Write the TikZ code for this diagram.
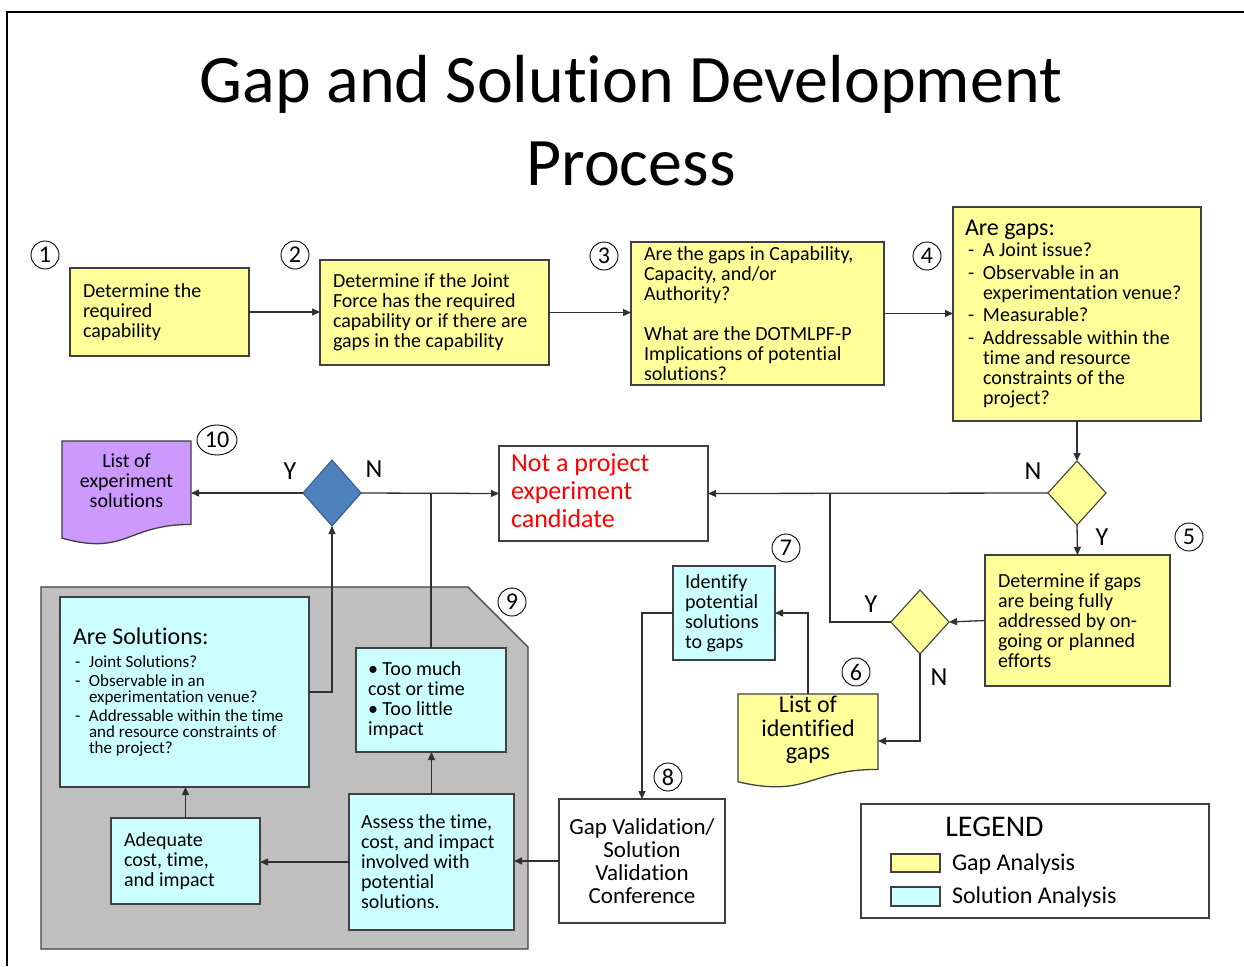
\documentclass[tikz,border=0pt]{standalone}
\usepackage{fontspec}
\setmainfont{Carlito}[Ligatures=NoCommon]
\usetikzlibrary{arrows.meta,shapes.geometric,calc}
\definecolor{gapyellow}{HTML}{FFFF99}
\definecolor{solcyan}{HTML}{CCFFFF}
\definecolor{grayregion}{HTML}{BFBFBF}
\definecolor{docpurple}{HTML}{CC99FF}
\definecolor{bluedia}{HTML}{4F81BD}
\definecolor{bluedialine}{HTML}{385D8A}
\definecolor{boxline}{HTML}{404040}
\definecolor{connline}{HTML}{303030}
\newcommand{\lft}[2]{\makebox[#1][l]{\parbox[c]{\dimexpr#1+40pt\relax}{\raggedright #2}}}
\newcommand{\itm}{\hspace*{3pt}\makebox[15pt][l]{-}}
\newcommand{\cnt}{\hspace*{18pt}}
\newcommand{\sitm}{\hspace*{2pt}\makebox[14pt][l]{-}}
\newcommand{\scnt}{\hspace*{16pt}}
\begin{document}
\begin{tikzpicture}[x=1pt,y=-1pt,
  bx/.style={draw=boxline, line width=1.3pt, inner sep=0pt, outer sep=0pt, text=black},
  gapbox/.style={bx, fill=gapyellow},
  solbox/.style={bx, fill=solcyan},
  plainbox/.style={bx, fill=white},
  f20/.style={font=\fontsize{20}{20}\selectfont},
  conn/.style={draw=connline, line width=1.3pt},
  arr/.style={conn, -{Triangle[length=8pt,width=7pt]}},
  num/.style={draw=black, line width=0.9pt, circle, minimum size=28pt, inner sep=0pt, font=\fontsize{24}{24}\selectfont},
  yn/.style={inner sep=0pt, font=\fontsize{26}{26}\selectfont},
  dia/.style={diamond, draw=boxline, line width=1.1pt, inner sep=0pt, outer sep=0pt, minimum width=58pt, minimum height=64pt},
  docshape/.style={draw=boxline, line width=1.3pt},
  txt/.style={inner sep=0pt, outer sep=0pt},
]
\useasboundingbox (0,0) rectangle (1244,966);
\fill[white] (0,0) rectangle (1244,966);
% frame
\draw[line width=2.5pt, line join=miter] (7,966) -- (7,12) -- (1244,12);

% title
\node[txt, anchor=base, font=\fontsize{68}{68}\selectfont] (title1) at (631,102) {Gap and Solution Development};
\node[txt, anchor=base, font=\fontsize{68}{68}\selectfont] (title2) at (631,185) {Process};

% top row
\node[gapbox, f20, minimum width=179pt, minimum height=88pt] (box1) at (159.5,312)
  {\hspace*{13pt}\lft{153pt}{Determine the\\required\\capability}\hspace*{13pt}};
\node[gapbox, f20, minimum width=229pt, minimum height=105pt] (box2) at (434.5,312.5)
  {\hspace*{13pt}\lft{203pt}{Determine if the Joint\\Force has the required\\capability or if there are\\gaps in the capability}\hspace*{13pt}};
\node[gapbox, f20, minimum width=253pt, minimum height=143pt] (box3) at (757.5,313.5)
  {\hspace*{13pt}\lft{227pt}{Are the gaps in Capability,\\Capacity, and/or\\Authority?\\[19.5pt]What are the DOTMLPF-P\\Implications of potential\\solutions?}\hspace*{13pt}};
\node[gapbox, f20, minimum width=248pt, minimum height=214pt] (box4) at (1077,314)
  {\hspace*{12pt}\lft{224pt}{{\fontsize{24}{24}\selectfont Are gaps:}\\[1pt]
   \itm A Joint issue?\\[2.5pt]
   \itm Observable in an\\ \cnt experimentation venue?\\[2.5pt]
   \itm Measurable?\\[2.5pt]
   \itm Addressable within the\\ \cnt time and resource\\ \cnt constraints of the\\ \cnt project?}\hspace*{12pt}};

\node[num] (n1) at (45,255) {1};
\node[num] (n2) at (295,255) {2};
\node[num] (n3) at (604,256) {3};
\node[num] (n4) at (927,256) {4};

\draw[arr] (box1.east) -- (box1.east -| box2.west);
\draw[arr] (box2.east) -- (box2.east -| box3.west);
\draw[arr] (box3.east) -- (box3.east -| box4.west);

% right side decisions
\node[dia, fill=gapyellow] (d1) at (1077,493) {};
\draw[arr] (box4.south) -- (d1.north);
\node[plainbox, text=red, font=\fontsize{26}{28}\selectfont, minimum width=209pt, minimum height=95pt] (npc) at (603.5,493.5)
  {\hspace*{12pt}\lft{185pt}{\vspace*{-5pt}Not a project\\experiment\\candidate}\hspace*{12pt}};
\draw[arr] (d1.west) -- (npc.east);
\node[yn] (nd1) at (1033,471) {N};
\node[yn] (yd1) at (1102,537) {Y};

\node[gapbox, f20, minimum width=185pt, minimum height=131pt] (box5) at (1077.5,620.5)
  {\hspace*{13pt}\lft{159pt}{Determine if gaps\\are being fully\\addressed by on-\\going or planned\\efforts}\hspace*{13pt}};
\node[num] (n5) at (1189,537) {5};
\draw[arr] (d1.south) -- (box5.north);

\node[dia, fill=gapyellow] (d2) at (920,622) {};
\draw[arr] (box5.west) -- (d2.east);
\coordinate (j1) at (830,493);
\draw[conn] (d2.west) -| (j1);
\node[yn] (yd2) at (871,604) {Y};
\node[yn] (nd2) at (939,677) {N};

% document 6
\node[txt, minimum width=140pt, minimum height=94pt, anchor=north west] (doc6) at (738,694) {};
\draw[docshape, fill=gapyellow] (doc6.north west) -- (doc6.north east) -- ($(doc6.north east)+(0,75.4)$)
  .. controls ($(doc6.north)+(0,75.4)$) and ($(doc6.north)+(0,104.1)$) .. ($(doc6.north west)+(0,87.8)$) -- cycle;
\node[txt, align=center, font=\fontsize{24}{23.5}\selectfont] (doc6t) at ($(doc6.center)+(0,-11)$) {List of\\identified\\gaps};
\node[num] (n6) at (856,672) {6};
\draw[arr] (d2.south) |- (doc6.east);

% box 7
\node[solbox, f20, minimum width=102pt, minimum height=94pt] (box7) at (724,613)
  {\hspace*{12pt}\lft{78pt}{Identify\\potential\\solutions\\to gaps}\hspace*{12pt}};
\node[num] (n7) at (786,548) {7};
\draw[arr] (doc6.north) |- (box7.east);

% box 8
\node[plainbox, align=center, font=\fontsize{23}{23.2}\selectfont, minimum width=166pt, minimum height=124pt] (box8) at (642,861)
  {\vspace*{-4pt}Gap Validation/\\Solution\\Validation\\Conference};
\node[num] (n8) at (668,777) {8};
\draw[arr] (box7.west) -| (box8.north);

% gray region 9
\draw[fill=grayregion, draw=boxline, line width=1.3pt] (41,587) -- (468,587) -- (528,647) -- (528,949) -- (41,949) -- cycle;
\node[num] (n9) at (512,602) {9};

\node[solbox, font=\fontsize{17}{16}\selectfont, minimum width=249pt, minimum height=190pt] (aresol) at (184.5,692)
  {\hspace*{13pt}\lft{223pt}{{\fontsize{24}{24}\selectfont Are Solutions:}\\[7pt]
   \sitm Joint Solutions?\\[3.5pt]
   \sitm Observable in an\\ \scnt experimentation venue?\\[3pt]
   \sitm Addressable within the time\\ \scnt and resource constraints of\\ \scnt the project?}\hspace*{13pt}};
\node[solbox, f20, minimum width=150pt, minimum height=104pt] (toomuch) at (431,700)
  {\hspace*{12pt}\lft{126pt}{• Too much\\cost or time\\• Too little\\impact}\hspace*{12pt}};
\node[solbox, f20, minimum width=165pt, minimum height=136pt] (assess) at (431.5,862)
  {\hspace*{12pt}\lft{141pt}{Assess the time,\\cost, and impact\\involved with\\potential\\solutions.}\hspace*{12pt}};
\node[solbox, f20, minimum width=149pt, minimum height=86pt] (adequate) at (185.5,861)
  {\hspace*{13pt}\lft{123pt}{Adequate\\cost, time,\\and impact}\hspace*{13pt}};

\draw[arr] (box8.west) -- (box8.west -| assess.east);
\draw[arr] (assess.west) -- (assess.west -| adequate.east);
\draw[arr] (adequate.north) -- (adequate.north |- aresol.south);
\draw[arr] (assess.north) -- (assess.north |- toomuch.south);

% blue decision
\node[dia, fill=bluedia, draw=bluedialine, minimum height=66pt] (bd) at (332,493) {};
\draw[arr] (aresol.east) -| (bd.south);
\draw[conn] (toomuch.north) -- (toomuch.north |- bd.east);
\draw[arr] (bd.east) -- (npc.west);
\node[yn] (ybd) at (290,471) {Y};
\node[yn] (nbd) at (374,469) {N};

% document 10
\node[txt, minimum width=129pt, minimum height=104pt, anchor=north west] (doc10) at (62,441) {};
\draw[docshape, fill=docpurple] (doc10.north west) -- (doc10.north east) -- ($(doc10.north east)+(0,83.4)$)
  .. controls ($(doc10.north)+(0,83.4)$) and ($(doc10.north)+(0,115.2)$) .. ($(doc10.north west)+(0,97.1)$) -- cycle;
\node[txt, align=center, f20] (doc10t) at ($(doc10.center)+(0,-12)$) {List of\\experiment\\solutions};
\node[num, ellipse, minimum width=40pt, minimum height=30pt] (n10) at (217,440) {10};
\draw[arr] (bd.west) -- (doc10.east);

% legend
\node[plainbox, minimum width=348pt, minimum height=114pt] (legend) at (1035,861) {};
\node[txt, font=\fontsize{30}{30}\selectfont] (legt) at (994.5,827) {LEGEND};
\node[gapbox, minimum width=49pt, minimum height=18pt] (sw1) at (915.5,863) {};
\node[solbox, minimum width=49pt, minimum height=19pt] (sw2) at (915.5,896.5) {};
\node[txt, anchor=west, font=\fontsize{24}{24}\selectfont] (lt1) at ($(sw1.east)+(12,1)$) {Gap Analysis};
\node[txt, anchor=west, font=\fontsize{24}{24}\selectfont] (lt2) at ($(sw2.east)+(12,1)$) {Solution Analysis};
\end{tikzpicture}
\end{document}
